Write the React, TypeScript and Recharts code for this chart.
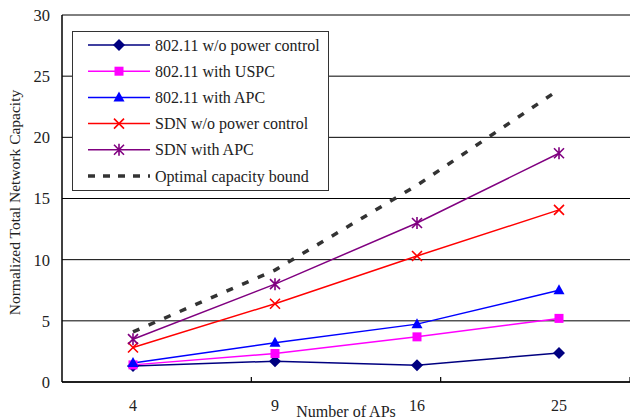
import React from 'react';
import { LineChart, Line, XAxis, YAxis, CartesianGrid, Legend, ReferenceLine } from 'recharts';

const categories = ['4', '9', '16', '25'];
const wifiNoPc = [1.3, 1.7, 1.37, 2.38];
const wifiUspc = [1.4, 2.33, 3.69, 5.2];
const wifiApc = [1.56, 3.2, 4.73, 7.5];
const sdnNoPc = [2.82, 6.4, 10.3, 14.07];
const sdnApc = [3.5, 8.0, 13.0, 18.7];
const optimalBound = [4.1, 9.15, 16.08, 23.9];
const yTicks = [0, 5, 10, 15, 20, 25, 30];
const boundaryTicks = [1, 2, 3];

const FONT = '"Liberation Serif", "Times New Roman", serif';

type Kind = 'diamond' | 'square' | 'triangle' | 'x' | 'star' | 'none';

const series: { key: string; name: string; color: string; kind: Kind; values: number[] }[] = [
  { key: 'a', name: '802.11 w/o power control', color: '#000080', kind: 'diamond', values: wifiNoPc },
  { key: 'b', name: '802.11 with USPC', color: '#FF00FF', kind: 'square', values: wifiUspc },
  { key: 'c', name: '802.11 with APC', color: '#0000FF', kind: 'triangle', values: wifiApc },
  { key: 'd', name: 'SDN w/o power control', color: '#FF0000', kind: 'x', values: sdnNoPc },
  { key: 'e', name: 'SDN with APC', color: '#800080', kind: 'star', values: sdnApc },
  { key: 'f', name: 'Optimal capacity bound', color: '#333333', kind: 'none', values: optimalBound },
];

const rows = categories.map((c, i) => {
  const r: any = { cat: c };
  series.forEach((s) => {
    r[s.key] = s.values[i];
  });
  return r;
});

function Marker({ kind, cx, cy, color }: { kind: Kind; cx: number; cy: number; color: string }) {
  switch (kind) {
    case 'diamond':
      return <polygon points={`${cx},${cy - 6} ${cx + 6},${cy} ${cx},${cy + 6} ${cx - 6},${cy}`} fill={color} />;
    case 'square':
      return <rect x={cx - 4.5} y={cy - 4.5} width={9} height={9} fill={color} />;
    case 'triangle':
      return <polygon points={`${cx},${cy - 6} ${cx + 5.5},${cy + 4} ${cx - 5.5},${cy + 4}`} fill={color} />;
    case 'x':
      return (
        <path
          d={`M${cx - 5},${cy - 5}L${cx + 5},${cy + 5}M${cx + 5},${cy - 5}L${cx - 5},${cy + 5}`}
          stroke={color}
          strokeWidth={1.6}
          fill="none"
        />
      );
    case 'star':
      return (
        <path
          d={`M${cx - 5},${cy - 5}L${cx + 5},${cy + 5}M${cx + 5},${cy - 5}L${cx - 5},${cy + 5}M${cx},${cy - 6}L${cx},${cy + 6}`}
          stroke={color}
          strokeWidth={1.6}
          fill="none"
        />
      );
    default:
      return null;
  }
}

const renderLegend = () => (
  <svg width={257} height={160} style={{ display: 'block' }}>
    <rect x={0.5} y={0.5} width={256} height={159} fill="#fff" stroke="#333" strokeWidth={1} />
    {series.map((s, i) => {
      const cy = 14 + i * 26.2;
      return (
        <g key={s.key}>
          {s.kind === 'none' ? (
            <line x1={16} x2={78} y1={cy} y2={cy} stroke={s.color} strokeWidth={3.5} strokeDasharray="7 8" />
          ) : (
            <line x1={16} x2={78} y1={cy} y2={cy} stroke={s.color} strokeWidth={1.5} />
          )}
          <Marker kind={s.kind} cx={47} cy={cy} color={s.color} />
          <text x={83} y={cy + 5.5} fontFamily={FONT} fontSize={16} fill="#222">
            {s.name}
          </text>
        </g>
      );
    })}
  </svg>
);

const YLabel = (props: any) => {
  const vb = props.viewBox || { x: 0, y: 15, width: 62, height: 367 };
  const x = vb.x + 20;
  const y = vb.y + vb.height / 2 + 4;
  return (
    <text
      x={x}
      y={y}
      transform={`rotate(-90, ${x}, ${y})`}
      textAnchor="middle"
      fontFamily={FONT}
      fontSize={15.5}
      fill="#222"
    >
      Normalized Total Network Capacity
    </text>
  );
};

export default function App() {
  return (
    <div style={{ position: 'absolute', left: 0, top: 0, width: 630, height: 419, background: '#fff' }}>
      <LineChart width={630} height={419} data={rows} margin={{ top: 15, right: 0, left: 0, bottom: 0 }}>
        <CartesianGrid vertical={false} stroke="#000" strokeWidth={1} />
        <XAxis
          dataKey="cat"
          scale="band"
          height={37}
          interval={0}
          tickLine={false}
          axisLine={{ stroke: '#000', strokeWidth: 1.5 }}
          tick={{ fill: '#222', fontSize: 16, fontFamily: FONT }}
          tickMargin={12}
          label={{ value: 'Number of APs', position: 'bottom', offset: -13, fill: '#222', fontSize: 16, fontFamily: FONT }}
        />
        <XAxis xAxisId="b" type="number" domain={[0, 4]} allowDataOverflow hide />
        <YAxis
          domain={[0, 30]}
          ticks={yTicks}
          interval={0}
          width={62}
          tickLine={false}
          axisLine={{ stroke: '#000', strokeWidth: 1.5 }}
          tick={{ fill: '#222', fontSize: 16.5, fontFamily: FONT }}
          tickMargin={6}
          label={<YLabel />}
        />
        {boundaryTicks.map((b) => (
          <ReferenceLine
            key={b}
            xAxisId="b"
            segment={[
              { x: b, y: 0 },
              { x: b, y: 0.4 },
            ]}
            stroke="#000"
            strokeWidth={1.2}
          />
        ))}
        <Legend
          layout="vertical"
          align="center"
          verticalAlign="middle"
          content={renderLegend}
          wrapperStyle={{ left: 72, top: 31, width: 257, height: 160 }}
        />
        {series.map((s) =>
          s.kind === 'none' ? (
            <Line
              key={s.key}
              type="linear"
              dataKey={s.key}
              name={s.name}
              stroke={s.color}
              strokeWidth={3.5}
              strokeDasharray="7 10"
              dot={false}
              activeDot={false}
              isAnimationActive={false}
            />
          ) : (
            <Line
              key={s.key}
              type="linear"
              dataKey={s.key}
              name={s.name}
              stroke={s.color}
              strokeWidth={1.5}
              dot={(p: any) => <Marker key={`${s.key}-${p.index}`} kind={s.kind} cx={p.cx} cy={p.cy} color={s.color} />}
              activeDot={false}
              isAnimationActive={false}
            />
          )
        )}
      </LineChart>
    </div>
  );
}
